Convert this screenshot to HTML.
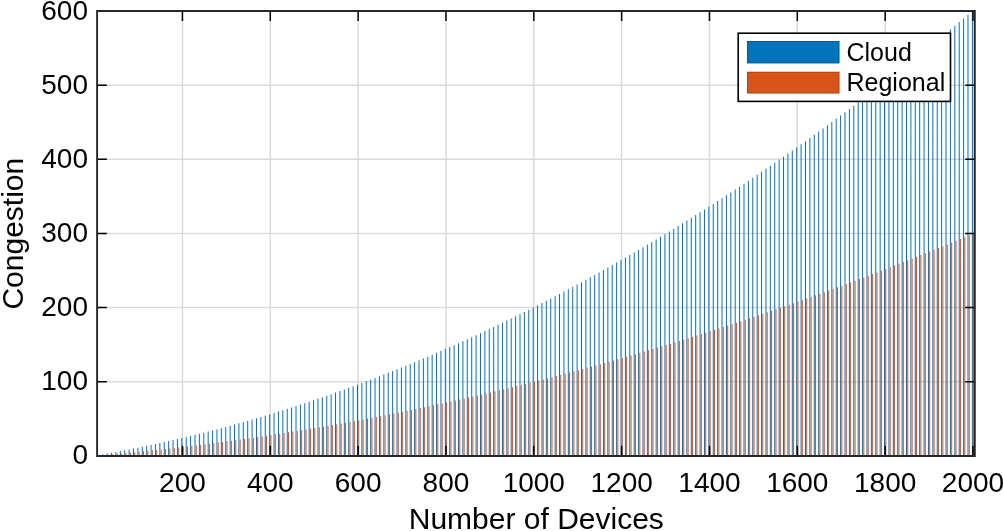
<!DOCTYPE html><html><head><meta charset="utf-8"><style>html,body{margin:0;padding:0;background:#fff;width:1003px;height:531px;overflow:hidden}svg{display:block}text{font-family:"Liberation Sans",Arial,sans-serif;fill:#000}</style></head><body>
<svg width="1003" height="531" viewBox="0 0 1003 531">
<defs><filter id="cs" filterUnits="userSpaceOnUse" x="0" y="0" width="1003" height="531" color-interpolation-filters="sRGB">
<feColorMatrix in="SourceGraphic" type="matrix" values="0.299 0.587 0.114 0 0 0.299 0.587 0.114 0 0 0.299 0.587 0.114 0 0 0 0 0 1 0" result="Y"/>
<feColorMatrix in="SourceGraphic" type="matrix" values="0 0 0 0 0.5 -0.168736 -0.331264 0.5 0 0.5 0.5 -0.418688 -0.081312 0 0.5 0 0 0 1 0" result="C"/>
<feConvolveMatrix in="C" order="3 1" kernelMatrix="0.2 0.6 0.2" divisor="1" edgeMode="duplicate" result="CB"/>
<feColorMatrix in="CB" type="matrix" values="0 0 0.701 0 0.1495 0 -0.172068 -0.357068 0 0.764568 0 0.886 0 0 0.057 0 0 0 1 0" result="D"/>
<feComposite in="Y" in2="D" operator="arithmetic" k1="0" k2="1" k3="2" k4="-0.997"/>
</filter></defs><g filter="url(#cs)">
<rect x="0" y="0" width="1003" height="531" fill="#fff"/>
<path d="M182.44 11.00V455.80M270.28 11.00V455.80M358.12 11.00V455.80M445.96 11.00V455.80M533.80 11.00V455.80M621.64 11.00V455.80M709.48 11.00V455.80M797.32 11.00V455.80M885.16 11.00V455.80M973.00 11.00V455.80M96.80 381.67H975.20M96.80 307.53H975.20M96.80 233.40H975.20M96.80 159.27H975.20M96.80 85.13H975.20" stroke="#d9d9d9" stroke-width="1.5" fill="none"/>
<g>
<path d="M97.87 455.80V455.05h1.00V455.80zM102.26 455.80V454.29h1.00V455.80zM106.65 455.80V453.51h1.00V455.80zM111.04 455.80V452.72h1.00V455.80zM115.43 455.80V451.91h1.00V455.80zM119.83 455.80V451.09h1.00V455.80zM124.22 455.80V450.25h1.00V455.80zM128.61 455.80V449.39h1.00V455.80zM133.00 455.80V448.53h1.00V455.80zM137.39 455.80V447.65h1.00V455.80zM141.79 455.80V446.75h1.00V455.80zM146.18 455.80V445.84h1.00V455.80zM150.57 455.80V444.91h1.00V455.80zM154.96 455.80V443.97h1.00V455.80zM159.35 455.80V443.01h1.00V455.80zM163.75 455.80V442.04h1.00V455.80zM168.14 455.80V441.05h1.00V455.80zM172.53 455.80V440.05h1.00V455.80zM176.92 455.80V439.04h1.00V455.80zM181.31 455.80V438.01h1.00V455.80zM185.71 455.80V436.96h1.00V455.80zM190.10 455.80V435.90h1.00V455.80zM194.49 455.80V434.83h1.00V455.80zM198.88 455.80V433.74h1.00V455.80zM203.27 455.80V432.63h1.00V455.80zM207.67 455.80V431.51h1.00V455.80zM212.06 455.80V430.38h1.00V455.80zM216.45 455.80V429.23h1.00V455.80zM220.84 455.80V428.07h1.00V455.80zM225.23 455.80V426.89h1.00V455.80zM229.63 455.80V425.69h1.00V455.80zM234.02 455.80V424.49h1.00V455.80zM238.41 455.80V423.26h1.00V455.80zM242.80 455.80V422.02h1.00V455.80zM247.19 455.80V420.77h1.00V455.80zM251.59 455.80V419.50h1.00V455.80zM255.98 455.80V418.22h1.00V455.80zM260.37 455.80V416.92h1.00V455.80zM264.76 455.80V415.61h1.00V455.80zM269.15 455.80V414.29h1.00V455.80zM273.55 455.80V412.94h1.00V455.80zM277.94 455.80V411.59h1.00V455.80zM282.33 455.80V410.22h1.00V455.80zM286.72 455.80V408.83h1.00V455.80zM291.11 455.80V407.43h1.00V455.80zM295.51 455.80V406.01h1.00V455.80zM299.90 455.80V404.58h1.00V455.80zM304.29 455.80V403.14h1.00V455.80zM308.68 455.80V401.68h1.00V455.80zM313.07 455.80V400.20h1.00V455.80zM317.47 455.80V398.71h1.00V455.80zM321.86 455.80V397.21h1.00V455.80zM326.25 455.80V395.69h1.00V455.80zM330.64 455.80V394.15h1.00V455.80zM335.03 455.80V392.60h1.00V455.80zM339.43 455.80V391.04h1.00V455.80zM343.82 455.80V389.46h1.00V455.80zM348.21 455.80V387.86h1.00V455.80zM352.60 455.80V386.26h1.00V455.80zM356.99 455.80V384.63h1.00V455.80zM361.39 455.80V382.99h1.00V455.80zM365.78 455.80V381.34h1.00V455.80zM370.17 455.80V379.67h1.00V455.80zM374.56 455.80V377.99h1.00V455.80zM378.95 455.80V376.29h1.00V455.80zM383.35 455.80V374.58h1.00V455.80zM387.74 455.80V372.85h1.00V455.80zM392.13 455.80V371.11h1.00V455.80zM396.52 455.80V369.35h1.00V455.80zM400.91 455.80V367.58h1.00V455.80zM405.31 455.80V365.79h1.00V455.80zM409.70 455.80V363.99h1.00V455.80zM414.09 455.80V362.18h1.00V455.80zM418.48 455.80V360.35h1.00V455.80zM422.87 455.80V358.50h1.00V455.80zM427.27 455.80V356.64h1.00V455.80zM431.66 455.80V354.76h1.00V455.80zM436.05 455.80V352.87h1.00V455.80zM440.44 455.80V350.97h1.00V455.80zM444.83 455.80V349.05h1.00V455.80zM449.23 455.80V347.11h1.00V455.80zM453.62 455.80V345.16h1.00V455.80zM458.01 455.80V343.20h1.00V455.80zM462.40 455.80V341.22h1.00V455.80zM466.79 455.80V339.23h1.00V455.80zM471.19 455.80V337.22h1.00V455.80zM475.58 455.80V335.19h1.00V455.80zM479.97 455.80V333.15h1.00V455.80zM484.36 455.80V331.10h1.00V455.80zM488.75 455.80V329.03h1.00V455.80zM493.15 455.80V326.95h1.00V455.80zM497.54 455.80V324.85h1.00V455.80zM501.93 455.80V322.74h1.00V455.80zM506.32 455.80V320.61h1.00V455.80zM510.71 455.80V318.47h1.00V455.80zM515.11 455.80V316.31h1.00V455.80zM519.50 455.80V314.14h1.00V455.80zM523.89 455.80V311.95h1.00V455.80zM528.28 455.80V309.75h1.00V455.80zM532.67 455.80V307.53h1.00V455.80zM537.07 455.80V305.30h1.00V455.80zM541.46 455.80V303.06h1.00V455.80zM545.85 455.80V300.79h1.00V455.80zM550.24 455.80V298.52h1.00V455.80zM554.63 455.80V296.23h1.00V455.80zM559.03 455.80V293.92h1.00V455.80zM563.42 455.80V291.60h1.00V455.80zM567.81 455.80V289.27h1.00V455.80zM572.20 455.80V286.92h1.00V455.80zM576.59 455.80V284.55h1.00V455.80zM580.99 455.80V282.17h1.00V455.80zM585.38 455.80V279.78h1.00V455.80zM589.77 455.80V277.37h1.00V455.80zM594.16 455.80V274.94h1.00V455.80zM598.55 455.80V272.51h1.00V455.80zM602.95 455.80V270.05h1.00V455.80zM607.34 455.80V267.58h1.00V455.80zM611.73 455.80V265.10h1.00V455.80zM616.12 455.80V262.60h1.00V455.80zM620.51 455.80V260.09h1.00V455.80zM624.91 455.80V257.56h1.00V455.80zM629.30 455.80V255.02h1.00V455.80zM633.69 455.80V252.46h1.00V455.80zM638.08 455.80V249.89h1.00V455.80zM642.47 455.80V247.30h1.00V455.80zM646.87 455.80V244.70h1.00V455.80zM651.26 455.80V242.08h1.00V455.80zM655.65 455.80V239.45h1.00V455.80zM660.04 455.80V236.80h1.00V455.80zM664.43 455.80V234.14h1.00V455.80zM668.83 455.80V231.47h1.00V455.80zM673.22 455.80V228.77h1.00V455.80zM677.61 455.80V226.07h1.00V455.80zM682.00 455.80V223.35h1.00V455.80zM686.39 455.80V220.61h1.00V455.80zM690.79 455.80V217.86h1.00V455.80zM695.18 455.80V215.10h1.00V455.80zM699.57 455.80V212.32h1.00V455.80zM703.96 455.80V209.52h1.00V455.80zM708.35 455.80V206.71h1.00V455.80zM712.75 455.80V203.89h1.00V455.80zM717.14 455.80V201.05h1.00V455.80zM721.53 455.80V198.19h1.00V455.80zM725.92 455.80V195.33h1.00V455.80zM730.31 455.80V192.44h1.00V455.80zM734.71 455.80V189.54h1.00V455.80zM739.10 455.80V186.63h1.00V455.80zM743.49 455.80V183.70h1.00V455.80zM747.88 455.80V180.76h1.00V455.80zM752.27 455.80V177.80h1.00V455.80zM756.67 455.80V174.83h1.00V455.80zM761.06 455.80V171.84h1.00V455.80zM765.45 455.80V168.84h1.00V455.80zM769.84 455.80V165.82h1.00V455.80zM774.23 455.80V162.79h1.00V455.80zM778.63 455.80V159.74h1.00V455.80zM783.02 455.80V156.68h1.00V455.80zM787.41 455.80V153.60h1.00V455.80zM791.80 455.80V150.51h1.00V455.80zM796.19 455.80V147.41h1.00V455.80zM800.59 455.80V144.28h1.00V455.80zM804.98 455.80V141.15h1.00V455.80zM809.37 455.80V138.00h1.00V455.80zM813.76 455.80V134.83h1.00V455.80zM818.15 455.80V131.65h1.00V455.80zM822.55 455.80V128.46h1.00V455.80zM826.94 455.80V125.25h1.00V455.80zM831.33 455.80V122.02h1.00V455.80zM835.72 455.80V118.78h1.00V455.80zM840.11 455.80V115.53h1.00V455.80zM844.51 455.80V112.26h1.00V455.80zM848.90 455.80V108.97h1.00V455.80zM853.29 455.80V105.68h1.00V455.80zM857.68 455.80V102.36h1.00V455.80zM862.07 455.80V99.03h1.00V455.80zM866.47 455.80V95.69h1.00V455.80zM870.86 455.80V92.33h1.00V455.80zM875.25 455.80V88.96h1.00V455.80zM879.64 455.80V85.57h1.00V455.80zM884.03 455.80V82.17h1.00V455.80zM888.43 455.80V78.75h1.00V455.80zM892.82 455.80V75.32h1.00V455.80zM897.21 455.80V71.87h1.00V455.80zM901.60 455.80V68.41h1.00V455.80zM905.99 455.80V64.93h1.00V455.80zM910.39 455.80V61.44h1.00V455.80zM914.78 455.80V57.93h1.00V455.80zM919.17 455.80V54.41h1.00V455.80zM923.56 455.80V50.88h1.00V455.80zM927.95 455.80V47.33h1.00V455.80zM932.35 455.80V43.76h1.00V455.80zM936.74 455.80V40.18h1.00V455.80zM941.13 455.80V36.58h1.00V455.80zM945.52 455.80V32.97h1.00V455.80zM949.91 455.80V29.35h1.00V455.80zM954.31 455.80V25.71h1.00V455.80zM958.70 455.80V22.05h1.00V455.80zM963.09 455.80V18.38h1.00V455.80zM967.48 455.80V14.70h1.00V455.80zM971.87 455.80V11.00h1.00V455.80z" fill="#0072BD"/>
<path d="M99.12 455.80V455.43h1.00V455.80zM103.51 455.80V455.04h1.00V455.80zM107.91 455.80V454.65h1.00V455.80zM112.30 455.80V454.26h1.00V455.80zM116.69 455.80V453.85h1.00V455.80zM121.08 455.80V453.44h1.00V455.80zM125.47 455.80V453.02h1.00V455.80zM129.87 455.80V452.60h1.00V455.80zM134.26 455.80V452.16h1.00V455.80zM138.65 455.80V451.72h1.00V455.80zM143.04 455.80V451.27h1.00V455.80zM147.43 455.80V450.82h1.00V455.80zM151.83 455.80V450.35h1.00V455.80zM156.22 455.80V449.88h1.00V455.80zM160.61 455.80V449.41h1.00V455.80zM165.00 455.80V448.92h1.00V455.80zM169.39 455.80V448.43h1.00V455.80zM173.79 455.80V447.93h1.00V455.80zM178.18 455.80V447.42h1.00V455.80zM182.57 455.80V446.90h1.00V455.80zM186.96 455.80V446.38h1.00V455.80zM191.35 455.80V445.85h1.00V455.80zM195.75 455.80V445.31h1.00V455.80zM200.14 455.80V444.77h1.00V455.80zM204.53 455.80V444.22h1.00V455.80zM208.92 455.80V443.66h1.00V455.80zM213.31 455.80V443.09h1.00V455.80zM217.71 455.80V442.52h1.00V455.80zM222.10 455.80V441.93h1.00V455.80zM226.49 455.80V441.34h1.00V455.80zM230.88 455.80V440.75h1.00V455.80zM235.27 455.80V440.14h1.00V455.80zM239.67 455.80V439.53h1.00V455.80zM244.06 455.80V438.91h1.00V455.80zM248.45 455.80V438.29h1.00V455.80zM252.84 455.80V437.65h1.00V455.80zM257.23 455.80V437.01h1.00V455.80zM261.63 455.80V436.36h1.00V455.80zM266.02 455.80V435.71h1.00V455.80zM270.41 455.80V435.04h1.00V455.80zM274.80 455.80V434.37h1.00V455.80zM279.19 455.80V433.69h1.00V455.80zM283.59 455.80V433.01h1.00V455.80zM287.98 455.80V432.31h1.00V455.80zM292.37 455.80V431.61h1.00V455.80zM296.76 455.80V430.91h1.00V455.80zM301.15 455.80V430.19h1.00V455.80zM305.55 455.80V429.47h1.00V455.80zM309.94 455.80V428.74h1.00V455.80zM314.33 455.80V428.00h1.00V455.80zM318.72 455.80V427.25h1.00V455.80zM323.11 455.80V426.50h1.00V455.80zM327.51 455.80V425.74h1.00V455.80zM331.90 455.80V424.98h1.00V455.80zM336.29 455.80V424.20h1.00V455.80zM340.68 455.80V423.42h1.00V455.80zM345.07 455.80V422.63h1.00V455.80zM349.47 455.80V421.83h1.00V455.80zM353.86 455.80V421.03h1.00V455.80zM358.25 455.80V420.22h1.00V455.80zM362.64 455.80V419.40h1.00V455.80zM367.03 455.80V418.57h1.00V455.80zM371.43 455.80V417.74h1.00V455.80zM375.82 455.80V416.89h1.00V455.80zM380.21 455.80V416.05h1.00V455.80zM384.60 455.80V415.19h1.00V455.80zM388.99 455.80V414.33h1.00V455.80zM393.39 455.80V413.46h1.00V455.80zM397.78 455.80V412.58h1.00V455.80zM402.17 455.80V411.69h1.00V455.80zM406.56 455.80V410.80h1.00V455.80zM410.95 455.80V409.90h1.00V455.80zM415.35 455.80V408.99h1.00V455.80zM419.74 455.80V408.07h1.00V455.80zM424.13 455.80V407.15h1.00V455.80zM428.52 455.80V406.22h1.00V455.80zM432.91 455.80V405.28h1.00V455.80zM437.31 455.80V404.34h1.00V455.80zM441.70 455.80V403.38h1.00V455.80zM446.09 455.80V402.42h1.00V455.80zM450.48 455.80V401.46h1.00V455.80zM454.87 455.80V400.48h1.00V455.80zM459.27 455.80V399.50h1.00V455.80zM463.66 455.80V398.51h1.00V455.80zM468.05 455.80V397.51h1.00V455.80zM472.44 455.80V396.51h1.00V455.80zM476.83 455.80V395.50h1.00V455.80zM481.23 455.80V394.48h1.00V455.80zM485.62 455.80V393.45h1.00V455.80zM490.01 455.80V392.42h1.00V455.80zM494.40 455.80V391.37h1.00V455.80zM498.79 455.80V390.33h1.00V455.80zM503.19 455.80V389.27h1.00V455.80zM507.58 455.80V388.21h1.00V455.80zM511.97 455.80V387.13h1.00V455.80zM516.36 455.80V386.06h1.00V455.80zM520.75 455.80V384.97h1.00V455.80zM525.15 455.80V383.88h1.00V455.80zM529.54 455.80V382.77h1.00V455.80zM533.93 455.80V381.67h1.00V455.80zM538.32 455.80V380.55h1.00V455.80zM542.71 455.80V379.43h1.00V455.80zM547.11 455.80V378.30h1.00V455.80zM551.50 455.80V377.16h1.00V455.80zM555.89 455.80V376.01h1.00V455.80zM560.28 455.80V374.86h1.00V455.80zM564.67 455.80V373.70h1.00V455.80zM569.07 455.80V372.53h1.00V455.80zM573.46 455.80V371.36h1.00V455.80zM577.85 455.80V370.18h1.00V455.80zM582.24 455.80V368.99h1.00V455.80zM586.63 455.80V367.79h1.00V455.80zM591.03 455.80V366.58h1.00V455.80zM595.42 455.80V365.37h1.00V455.80zM599.81 455.80V364.15h1.00V455.80zM604.20 455.80V362.93h1.00V455.80zM608.59 455.80V361.69h1.00V455.80zM612.99 455.80V360.45h1.00V455.80zM617.38 455.80V359.20h1.00V455.80zM621.77 455.80V357.94h1.00V455.80zM626.16 455.80V356.68h1.00V455.80zM630.55 455.80V355.41h1.00V455.80zM634.95 455.80V354.13h1.00V455.80zM639.34 455.80V352.84h1.00V455.80zM643.73 455.80V351.55h1.00V455.80zM648.12 455.80V350.25h1.00V455.80zM652.51 455.80V348.94h1.00V455.80zM656.91 455.80V347.62h1.00V455.80zM661.30 455.80V346.30h1.00V455.80zM665.69 455.80V344.97h1.00V455.80zM670.08 455.80V343.63h1.00V455.80zM674.47 455.80V342.29h1.00V455.80zM678.87 455.80V340.93h1.00V455.80zM683.26 455.80V339.57h1.00V455.80zM687.65 455.80V338.21h1.00V455.80zM692.04 455.80V336.83h1.00V455.80zM696.43 455.80V335.45h1.00V455.80zM700.83 455.80V334.06h1.00V455.80zM705.22 455.80V332.66h1.00V455.80zM709.61 455.80V331.26h1.00V455.80zM714.00 455.80V329.84h1.00V455.80zM718.39 455.80V328.42h1.00V455.80zM722.79 455.80V327.00h1.00V455.80zM727.18 455.80V325.56h1.00V455.80zM731.57 455.80V324.12h1.00V455.80zM735.96 455.80V322.67h1.00V455.80zM740.35 455.80V321.21h1.00V455.80zM744.75 455.80V319.75h1.00V455.80zM749.14 455.80V318.28h1.00V455.80zM753.53 455.80V316.80h1.00V455.80zM757.92 455.80V315.31h1.00V455.80zM762.31 455.80V313.82h1.00V455.80zM766.71 455.80V312.32h1.00V455.80zM771.10 455.80V310.81h1.00V455.80zM775.49 455.80V309.29h1.00V455.80zM779.88 455.80V307.77h1.00V455.80zM784.27 455.80V306.24h1.00V455.80zM788.67 455.80V304.70h1.00V455.80zM793.06 455.80V303.16h1.00V455.80zM797.45 455.80V301.60h1.00V455.80zM801.84 455.80V300.04h1.00V455.80zM806.23 455.80V298.47h1.00V455.80zM810.63 455.80V296.90h1.00V455.80zM815.02 455.80V295.32h1.00V455.80zM819.41 455.80V293.73h1.00V455.80zM823.80 455.80V292.13h1.00V455.80zM828.19 455.80V290.52h1.00V455.80zM832.59 455.80V288.91h1.00V455.80zM836.98 455.80V287.29h1.00V455.80zM841.37 455.80V285.66h1.00V455.80zM845.76 455.80V284.03h1.00V455.80zM850.15 455.80V282.39h1.00V455.80zM854.55 455.80V280.74h1.00V455.80zM858.94 455.80V279.08h1.00V455.80zM863.33 455.80V277.42h1.00V455.80zM867.72 455.80V275.74h1.00V455.80zM872.11 455.80V274.07h1.00V455.80zM876.51 455.80V272.38h1.00V455.80zM880.90 455.80V270.69h1.00V455.80zM885.29 455.80V268.98h1.00V455.80zM889.68 455.80V267.28h1.00V455.80zM894.07 455.80V265.56h1.00V455.80zM898.47 455.80V263.84h1.00V455.80zM902.86 455.80V262.10h1.00V455.80zM907.25 455.80V260.37h1.00V455.80zM911.64 455.80V258.62h1.00V455.80zM916.03 455.80V256.87h1.00V455.80zM920.43 455.80V255.11h1.00V455.80zM924.82 455.80V253.34h1.00V455.80zM929.21 455.80V251.56h1.00V455.80zM933.60 455.80V249.78h1.00V455.80zM937.99 455.80V247.99h1.00V455.80zM942.39 455.80V246.19h1.00V455.80zM946.78 455.80V244.39h1.00V455.80zM951.17 455.80V242.57h1.00V455.80zM955.56 455.80V240.75h1.00V455.80zM959.95 455.80V238.93h1.00V455.80zM964.35 455.80V237.09h1.00V455.80zM968.74 455.80V235.25h1.00V455.80zM973.13 455.80V233.40h1.00V455.80z" fill="#D95319"/>
</g>
<path d="M182.44 455.80v-10.0M182.44 11.00v10.0M270.28 455.80v-10.0M270.28 11.00v10.0M358.12 455.80v-10.0M358.12 11.00v10.0M445.96 455.80v-10.0M445.96 11.00v10.0M533.80 455.80v-10.0M533.80 11.00v10.0M621.64 455.80v-10.0M621.64 11.00v10.0M709.48 455.80v-10.0M709.48 11.00v10.0M797.32 455.80v-10.0M797.32 11.00v10.0M885.16 455.80v-10.0M885.16 11.00v10.0M973.00 455.80v-10.0M973.00 11.00v10.0M96.80 381.67h10.0M975.20 381.67h-10.0M96.80 307.53h10.0M975.20 307.53h-10.0M96.80 233.40h10.0M975.20 233.40h-10.0M96.80 159.27h10.0M975.20 159.27h-10.0M96.80 85.13h10.0M975.20 85.13h-10.0" stroke="#000" stroke-width="1.5" fill="none"/>
<path d="M97.1 11.0H974.8V455.95H97.1Z" stroke="#262626" stroke-width="1.9" fill="none"/>
<text x="182.44" y="491.6" font-size="28" text-anchor="middle">200</text>
<text x="270.28" y="491.6" font-size="28" text-anchor="middle">400</text>
<text x="358.12" y="491.6" font-size="28" text-anchor="middle">600</text>
<text x="445.96" y="491.6" font-size="28" text-anchor="middle">800</text>
<text x="533.80" y="491.6" font-size="28" text-anchor="middle">1000</text>
<text x="621.64" y="491.6" font-size="28" text-anchor="middle">1200</text>
<text x="709.48" y="491.6" font-size="28" text-anchor="middle">1400</text>
<text x="797.32" y="491.6" font-size="28" text-anchor="middle">1600</text>
<text x="885.16" y="491.6" font-size="28" text-anchor="middle">1800</text>
<text x="973.00" y="491.6" font-size="28" text-anchor="middle">2000</text>
<text x="88" y="464.40" font-size="28" text-anchor="end">0</text>
<text x="88" y="390.27" font-size="28" text-anchor="end">100</text>
<text x="88" y="316.13" font-size="28" text-anchor="end">200</text>
<text x="88" y="242.00" font-size="28" text-anchor="end">300</text>
<text x="88" y="167.87" font-size="28" text-anchor="end">400</text>
<text x="88" y="93.73" font-size="28" text-anchor="end">500</text>
<text x="88" y="19.60" font-size="28" text-anchor="end">600</text>
<text x="536.3" y="529.2" font-size="30" text-anchor="middle">Number of Devices</text>
<text transform="translate(22.9 233.7) rotate(-90)" x="0" y="0" font-size="30" text-anchor="middle">Congestion</text>
<rect x="738.2" y="33.2" width="212.3" height="68.2" fill="#fff" stroke="#000" stroke-width="1.6"/>
<rect x="747" y="41.0" width="92.5" height="22.40" fill="#0072BD"/>
<rect x="747.5" y="41.5" width="91.5" height="21.40" fill="none" stroke="#000" stroke-opacity="0.18" stroke-width="1"/>
<rect x="747" y="71.75" width="92.5" height="21.75" fill="#D95319"/>
<rect x="747.5" y="72.25" width="91.5" height="20.75" fill="none" stroke="#000" stroke-opacity="0.18" stroke-width="1"/>
<text x="846.5" y="60.8" font-size="25">Cloud</text>
<text x="846.5" y="90.8" font-size="25">Regional</text>
</g></svg></body></html>
